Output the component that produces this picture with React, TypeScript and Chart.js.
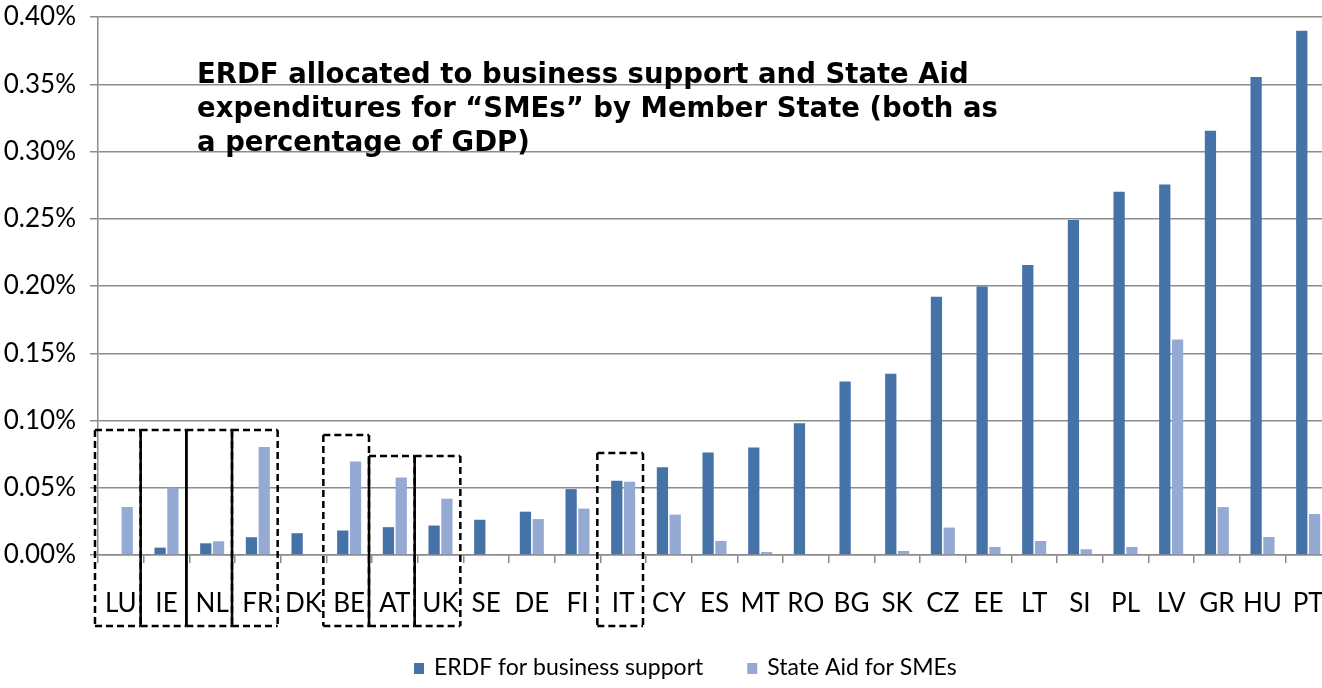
import React, { useEffect, useRef } from 'react';
import { Chart, registerables } from 'chart.js';

Chart.register(...registerables);

const categories = ['LU', 'IE', 'NL', 'FR', 'DK', 'BE', 'AT', 'UK', 'SE', 'DE', 'FI', 'IT', 'CY', 'ES', 'MT', 'RO', 'BG', 'SK', 'CZ', 'EE', 'LT', 'SI', 'PL', 'LV', 'GR', 'HU', 'PT'];

const erdfBusinessSupport = [0.0005, 0.0055, 0.0087, 0.0132, 0.0162, 0.0182, 0.0207, 0.0219, 0.0262, 0.0322, 0.049, 0.0552, 0.0652, 0.0762, 0.080, 0.098, 0.129, 0.1347, 0.192, 0.1996, 0.2157, 0.249, 0.270, 0.2754, 0.3154, 0.3553, 0.3897];

const stateAidSMEs = [0.0357, 0.0501, 0.0102, 0.0803, 0.0005, 0.0696, 0.0576, 0.0419, 0.0005, 0.0267, 0.0345, 0.0545, 0.030, 0.0105, 0.0022, 0, 0, 0.003, 0.0204, 0.006, 0.0104, 0.0043, 0.006, 0.1603, 0.0356, 0.0134, 0.0305];

const seriesNames = ['ERDF for business support', 'State Aid for SMEs'];
const seriesColors = ['#4572A7', '#95AAD2'];

const titleLines = [
  'ERDF allocated to business support and State Aid',
  'expenditures for \u201cSMEs\u201d by Member State (both as',
  'a percentage of GDP)',
];

// highlighted member states (dashed boxes): code, top value (% of GDP), side style
const highlightCodes = ['LU', 'IE', 'NL', 'FR', 'BE', 'AT', 'UK', 'IT'];
const highlightTops = [0.0929, 0.0929, 0.0929, 0.0929, 0.0892, 0.0736, 0.0736, 0.0758];
const highlightSides = ['dashed', 'solid', 'solid', 'dashed', 'dashed', 'solid', 'dashed', 'dashed'];

const TICK_FONT = 'Lato, sans-serif';

const overlayPlugin = {
  id: 'overlay',
  afterDraw(chart: any) {
    const ctx = chart.ctx;
    const xs = chart.scales.x;
    const ys = chart.scales.y;
    const area = chart.chartArea;
    const catW = (xs.right - xs.left) / categories.length;

    // boxes
    ctx.save();
    ctx.strokeStyle = '#000';
    ctx.lineWidth = 2.5;
    highlightCodes.forEach((code, i) => {
      const idx = categories.indexOf(code);
      const cx = xs.getPixelForValue(idx);
      const l = cx - catW / 2 - 3;
      const r = cx + catW / 2 - 3;
      const t = ys.getPixelForValue(highlightTops[i]);
      const b = area.bottom + 71;
      ctx.setLineDash([7, 4]);
      ctx.beginPath();
      ctx.moveTo(l, t); ctx.lineTo(r, t);
      ctx.moveTo(l, b); ctx.lineTo(r, b);
      ctx.stroke();
      if (highlightSides[i] === 'solid') ctx.setLineDash([]);
      ctx.beginPath();
      ctx.moveTo(l, t); ctx.lineTo(l, b);
      ctx.moveTo(r, t); ctx.lineTo(r, b);
      ctx.stroke();
    });
    ctx.restore();

    // title
    ctx.save();
    ctx.fillStyle = '#000';
    ctx.font = 'bold 27.5px "DejaVu Sans", Verdana, sans-serif';
    ctx.textBaseline = 'middle';
    ctx.textAlign = 'left';
    titleLines.forEach((line, i) => {
      ctx.fillText(line, area.left + 99, 76 + i * 34);
    });
    ctx.restore();

    // legend
    ctx.save();
    ctx.font = '23px ' + TICK_FONT;
    ctx.textBaseline = 'middle';
    ctx.textAlign = 'left';
    let x = area.left + 316;
    const y = area.bottom + 113;
    seriesNames.forEach((name, i) => {
      ctx.fillStyle = seriesColors[i];
      ctx.fillRect(x, y - 5, 10, 11);
      ctx.fillStyle = '#000';
      ctx.fillText(name, x + 20, y);
      x += 20 + ctx.measureText(name).width + 44;
    });
    ctx.restore();
  },
};

export default function App() {
  const ref = useRef<HTMLCanvasElement>(null);
  useEffect(() => {
    if (!ref.current) return;
    const chart = new Chart(ref.current, {
      type: 'bar',
      data: {
        labels: categories,
        datasets: seriesNames.map((name, i) => ({
          label: name,
          data: i === 0 ? erdfBusinessSupport : stateAidSMEs,
          backgroundColor: seriesColors[i],
          borderWidth: 0,
          categoryPercentage: 0.56,
          barPercentage: 0.88,
        })),
      },
      options: {
        animation: false,
        responsive: true,
        maintainAspectRatio: false,
        layout: { padding: { top: 17, left: 0, right: 0, bottom: 0 } },
        plugins: {
          legend: { display: false },
          tooltip: { enabled: false },
        },
        scales: {
          x: {
            offset: true,
            grid: { display: true, drawOnChartArea: false, offset: true, color: '#8c8c8c', lineWidth: 1.5, tickLength: 8 },
            border: { color: '#8c8c8c', width: 1.5 },
            ticks: { color: '#000', font: { family: TICK_FONT, size: 26 }, padding: 25, maxRotation: 0, autoSkip: false },
            afterFit: (s: any) => { s.height = 133; s.paddingLeft = 0; s.paddingRight = 0; },
          },
          y: {
            min: 0,
            max: 0.4,
            ticks: {
              stepSize: 0.05,
              color: '#000',
              font: { family: TICK_FONT, size: 26 },
              padding: 14,
              callback: (v: any) => Number(v).toFixed(2) + '%',
            },
            grid: { color: '#8c8c8c', lineWidth: 1.5, tickLength: 8 },
            border: { color: '#8c8c8c', width: 1.5 },
            afterFit: (s: any) => { s.width = 98; s.paddingTop = 0; s.paddingBottom = 0; },
          },
        },
      },
      plugins: [overlayPlugin],
    });
    return () => chart.destroy();
  }, []);
  return (
    <div style={{ position: 'fixed', left: 0, top: 0, width: 1322, height: 688, overflow: 'hidden', background: '#fff' }}>
      <div style={{ position: 'relative', width: 1331, height: 688 }}>
        <canvas ref={ref} />
      </div>
    </div>
  );
}
